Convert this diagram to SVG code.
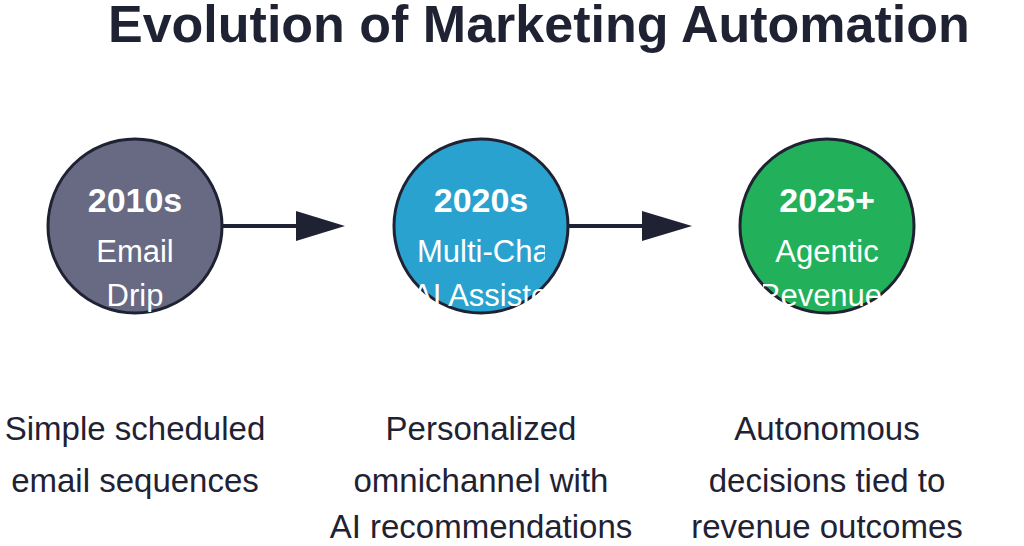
<svg xmlns="http://www.w3.org/2000/svg" width="1024" height="546" viewBox="0 0 1024 546">
<style>
text{font-family:"Liberation Sans",Arial,sans-serif}
.t{font-size:52px;font-weight:bold;fill:#1f2233}
.y{font-size:34px;font-weight:bold;fill:#fff;text-anchor:middle}
.l{font-size:31px;fill:#fff}
.d{font-size:33px;fill:#1f2233;text-anchor:middle}
circle{stroke:#1f2233;stroke-width:3}
</style>
<defs>
<clipPath id="c1"><rect x="71" y="140" width="128" height="172"/></clipPath>
<clipPath id="c2"><rect x="417" y="140" width="128" height="172"/></clipPath>
<clipPath id="c3"><rect x="763" y="140" width="128" height="172"/></clipPath>
</defs>
<text class="t" x="108" y="42">Evolution of Marketing Automation</text>
<g id="connectors" fill="#1f2233" stroke="#1f2233">
<line x1="222" y1="226" x2="300" y2="226" stroke-width="4"/>
<polygon points="296,211 345,226 296,241" stroke="none"/>
<line x1="568" y1="226" x2="646" y2="226" stroke-width="4"/>
<polygon points="642,211 692,226 642,241" stroke="none"/>
</g>
<g id="n1">
<circle cx="135" cy="226" r="87" fill="#676a82"/>
<text class="y" x="135" y="212">2010s</text>
<g clip-path="url(#c1)"><text class="l" x="135" y="262" text-anchor="middle">Email</text><text class="l" x="135" y="306" text-anchor="middle">Drip</text></g>
</g>
<g id="n2">
<circle cx="481" cy="226" r="87" fill="#2aa2cf"/>
<text class="y" x="481" y="212">2020s</text>
<g clip-path="url(#c2)"><text class="l" x="417" y="262">Multi-Channel</text><text class="l" x="412" y="306">AI Assisted</text></g>
</g>
<g id="n3">
<circle cx="827" cy="226" r="87" fill="#22b05a"/>
<text class="y" x="827" y="212">2025+</text>
<g clip-path="url(#c3)"><text class="l" x="827" y="262" text-anchor="middle">Agentic</text><text class="l" x="758" y="306">Revenue</text></g>
</g>
<g id="desc">
<text class="d" x="135" y="440">Simple scheduled</text>
<text class="d" x="135" y="492">email sequences</text>
<text class="d" x="481" y="440">Personalized</text>
<text class="d" x="481" y="492">omnichannel with</text>
<text class="d" x="481" y="538">AI recommendations</text>
<text class="d" x="827" y="440">Autonomous</text>
<text class="d" x="827" y="492">decisions tied to</text>
<text class="d" x="827" y="538">revenue outcomes</text>
</g>
</svg>
